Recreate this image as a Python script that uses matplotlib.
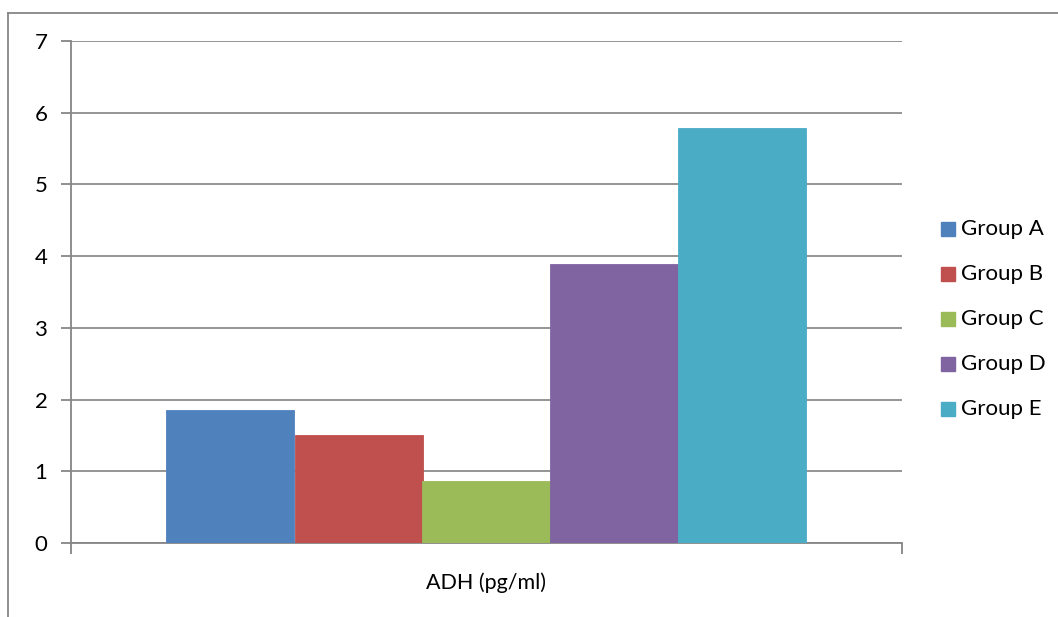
import matplotlib.pyplot as plt
from matplotlib.patches import Rectangle
from matplotlib.lines import Line2D

groups = ["Group A", "Group B", "Group C", "Group D", "Group E"]
values = [1.85, 1.5, 0.86, 3.89, 5.79]
colors = ["#4f81bd", "#c0504d", "#9bbb59", "#8064a2", "#4bacc6"]
category = "ADH (pg/ml)"

plt.rcParams['font.family'] = ['Lato', 'DejaVu Sans']

fig = plt.figure(figsize=(10.58, 6.17), dpi=100)
W, H = 1058, 617
ax = fig.add_axes([71 / W, 1 - 543 / H, (902 - 71) / W, (543 - 41) / H])

# five bars side by side inside a single category slot
bw = 128 / 831
start = 0.5 - 2.5 * bw
for i, (g, v, c) in enumerate(zip(groups, values, colors)):
    ax.bar(start + (i + 0.5) * bw, v, width=bw, color=c, edgecolor=c,
           linewidth=0.6, label=g, zorder=3)

ax.set_xlim(0, 1)
ax.set_ylim(0, 7)
ax.set_yticks(range(8))
ax.yaxis.grid(True, color="#8c8c8c", linewidth=1.3, zorder=0)
ax.set_xticks([0, 1])
ax.set_xticklabels(["", ""])
ax.text(0.5, -40 / 502 * 7, category, transform=ax.transData, ha="center",
        va="center", fontsize=15.5)
ax.tick_params(axis="y", length=7, width=1.3, color="#868686", labelsize=16,
               pad=10)
ax.tick_params(axis="x", length=8, width=1.3, color="#868686", direction="out")
for s in ["top", "right"]:
    ax.spines[s].set_visible(False)
for s in ["left", "bottom"]:
    ax.spines[s].set_color("#868686")
    ax.spines[s].set_linewidth(1.3)

# legend drawn by hand to the right of the plot
for i, (g, c) in enumerate(zip(groups, colors)):
    y = 229 + i * 45.
    fig.patches.append(Rectangle((941 / W, 1 - (y + 7) / H), 14 / W, 14 / H,
                                 transform=fig.transFigure, color=c))
    fig.text(961 / W, 1 - y / H, g, ha="left", va="center", fontsize=16)

# chart frame
fig.add_artist(Line2D([8 / W, 1], [1 - 13 / H] * 2, color="#868686", lw=1.3))
fig.add_artist(Line2D([8 / W] * 2, [0, 1 - 13 / H], color="#868686", lw=1.3))

fig.savefig("out.png", dpi=100)
